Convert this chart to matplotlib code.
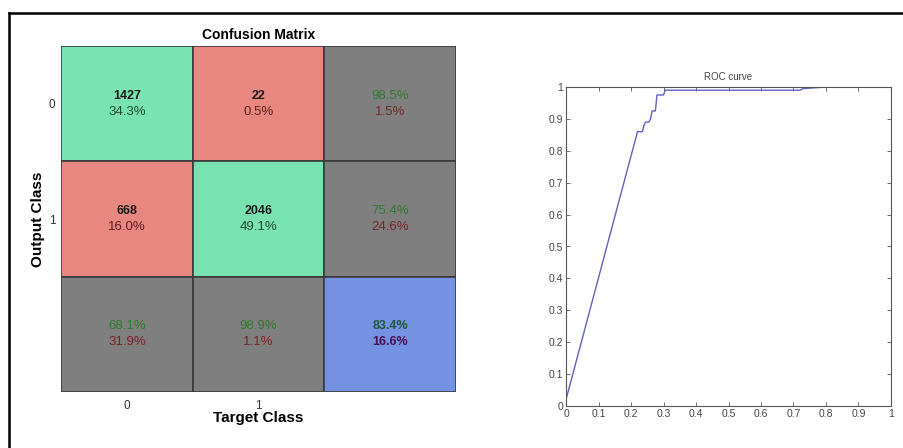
import matplotlib
matplotlib.use("Agg")
import matplotlib.pyplot as plt
from matplotlib.patches import Rectangle
from matplotlib.lines import Line2D

plt.rcParams['font.family'] = ['Liberation Sans', 'DejaVu Sans']

# ---- data ----
classes = ['0', '1']
counts = [[1427, 22], [668, 2046]]
cell_pct = [["34.3%", "0.5%"], ["16.0%", "49.1%"]]
row_summary = [["98.5%", "1.5%"], ["75.4%", "24.6%"]]
col_summary = [["68.1%", "31.9%"], ["98.9%", "1.1%"]]
overall = ["83.4%", "16.6%"]

roc_fpr = [0.0, 0.0, 0.22, 0.235, 0.24, 0.245, 0.255, 0.26, 0.265, 0.275, 0.28,
           0.30, 0.305, 0.72, 0.73, 0.80]
roc_tpr = [0.0, 0.02, 0.86, 0.86, 0.88, 0.89, 0.89, 0.90, 0.925, 0.925, 0.975,
           0.975, 0.99, 0.99, 0.995, 1.0]

GREEN = '#78E2B1'
RED = '#E8877F'
GREY = '#7F7F7F'
BLUE = '#7591E1'
TXT_G = '#2F7A2F'
TXT_R = '#7A2525'

fig = plt.figure(figsize=(9.04, 4.48), dpi=100)

# outer frame lines (top and left)
fig.add_artist(Line2D([9/904, 1.0], [1-13/448, 1-13/448], color='black', lw=1.8))
fig.add_artist(Line2D([9/904, 9/904], [0.0, 1-13/448], color='black', lw=1.8))

# ---- confusion matrix ----
ax = fig.add_axes([61/904, 1-392/448, (456-61)/904, (392-46)/448])
ax.set_xlim(0, 3)
ax.set_ylim(3, 0)
for s in ax.spines.values():
    s.set_visible(False)

n = len(classes)
for r in range(n + 1):
    for c in range(n + 1):
        if r < n and c < n:
            fc = GREEN if r == c else RED
        elif r == n and c == n:
            fc = BLUE
        else:
            fc = GREY
        ax.add_patch(Rectangle((c, r), 1, 1, facecolor=fc, edgecolor='#3a3a3a', lw=1.2))

FS = 9.5
for r in range(n):
    for c in range(n):
        ax.text(c + 0.5, r + 0.43, str(counts[r][c]), ha='center', va='center',
                fontsize=9, fontweight='bold', color='#1a1a1a')
        ax.text(c + 0.5, r + 0.57, cell_pct[r][c], ha='center', va='center',
                fontsize=FS, color='#1f4a30' if r == c else '#5a1f1f')
    ax.text(n + 0.5, r + 0.43, row_summary[r][0], ha='center', va='center', fontsize=FS, color=TXT_G)
    ax.text(n + 0.5, r + 0.57, row_summary[r][1], ha='center', va='center', fontsize=FS, color=TXT_R)
for c in range(n):
    ax.text(c + 0.5, n + 0.43, col_summary[c][0], ha='center', va='center', fontsize=FS, color=TXT_G)
    ax.text(c + 0.5, n + 0.57, col_summary[c][1], ha='center', va='center', fontsize=FS, color=TXT_R)
ax.text(n + 0.5, n + 0.43, overall[0], ha='center', va='center', fontsize=9,
        fontweight='bold', color='#1f5a3a')
ax.text(n + 0.5, n + 0.57, overall[1], ha='center', va='center', fontsize=9,
        fontweight='bold', color='#4a1050')

ax.set_xticks([i + 0.5 for i in range(n)])
ax.set_xticklabels(classes, fontsize=8.5, color='#333333')
ax.set_yticks([i + 0.5 for i in range(n)])
ax.set_yticklabels(classes, fontsize=8.5, color='#333333')
ax.tick_params(axis='x', length=0, pad=6)
ax.tick_params(axis='y', length=0, pad=4)
ax.set_title('Confusion Matrix', fontsize=10, fontweight='bold', pad=5)
ax.set_xlabel('Target Class', fontsize=11, fontweight='bold', labelpad=-1)
ax.set_ylabel('Output Class', fontsize=11, fontweight='bold', labelpad=3)

# ---- ROC curve ----
ax2 = fig.add_axes([566/904, 1-406/448, (891-566)/904, (406-87)/448])
ax2.plot(roc_fpr, roc_tpr, color='#6262C0', lw=1.0)
ax2.set_xlim(0, 1)
ax2.set_ylim(0, 1)
ticks = [i / 10 for i in range(11)]
labels = ['0'] + [f'{t:.1f}' for t in ticks[1:-1]] + ['1']
ax2.set_xticks(ticks)
ax2.set_xticklabels(labels)
ax2.set_yticks(ticks)
ax2.set_yticklabels(labels)
ax2.tick_params(direction='in', length=3, width=0.6, top=True, right=True,
                labelsize=7.5, labelcolor='#444444', color='#555555', pad=2)
for s in ax2.spines.values():
    s.set_color('#555555')
    s.set_linewidth(0.8)
ax2.set_title('ROC curve', fontsize=7, color='#444444', pad=5)

fig.savefig('out.png', dpi=100)
